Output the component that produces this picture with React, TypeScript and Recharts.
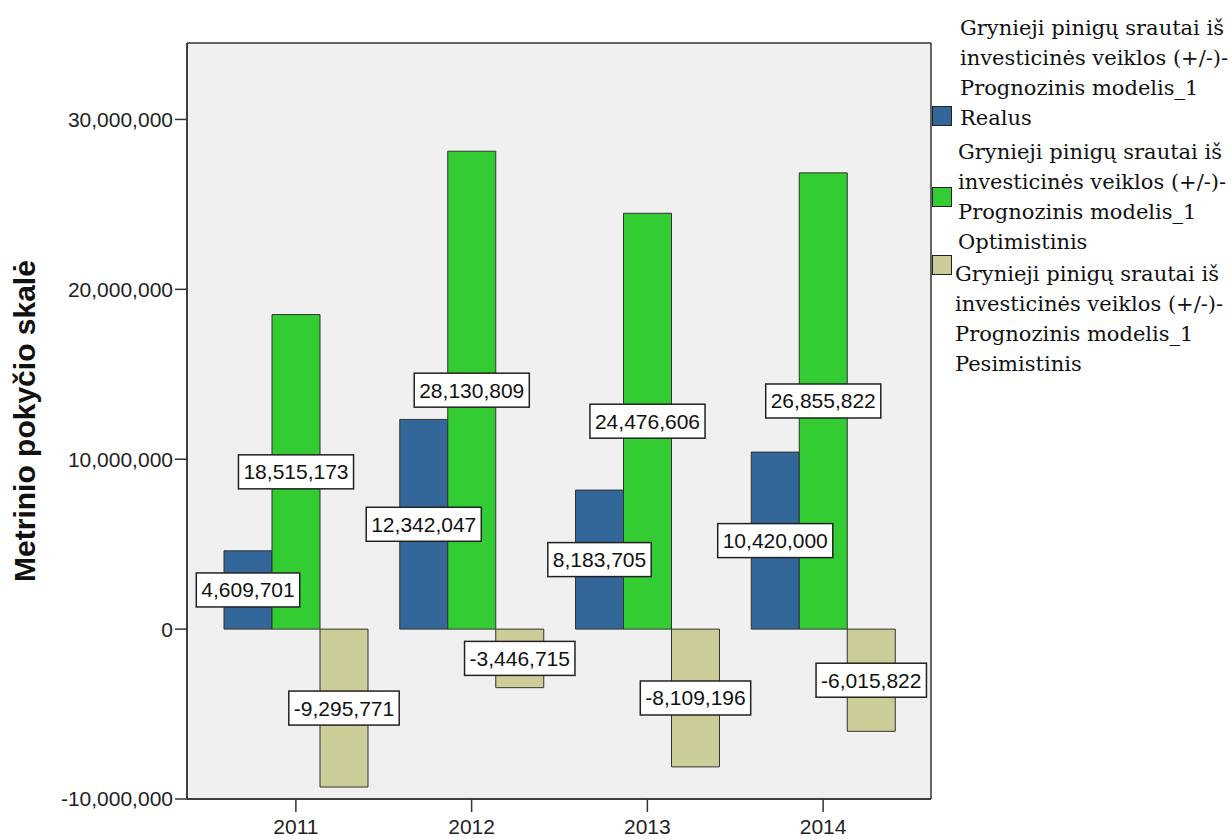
import React from 'react';
import { BarChart, Bar, XAxis, YAxis, CartesianGrid, Legend, Label, LabelList } from 'recharts';

const years = ['2011', '2012', '2013', '2014'];
const realus = [4609701, 12342047, 8183705, 10420000];
const optimistinis = [18515173, 28130809, 24476606, 26855822];
const pesimistinis = [-9295771, -3446715, -8109196, -6015822];
const yTicks = [-10000000, 0, 10000000, 20000000, 30000000];
const legendPrefix = ['Grynieji pinigų srautai iš', 'investicinės veiklos (+/-)-', 'Prognozinis modelis_1'];
const seriesNames = ['Realus', 'Optimistinis', 'Pesimistinis'];
const seriesKeys = ['realus', 'optimistinis', 'pesimistinis'];
const seriesColors = ['#336699', '#33CC33', '#CCCC99'];
const yTitle = 'Metrinio pokyčio skalė';

const data = years.map((y, i) => ({
  year: y,
  realus: realus[i],
  optimistinis: optimistinis[i],
  pesimistinis: pesimistinis[i],
}));

const fmt = (v: number) => v.toLocaleString('en-US');
const SANS = '"Liberation Sans", Arial, sans-serif';
const SERIF = '"DejaVu Serif", serif';
const LABEL_FS = 21;

const textWidth = (s: string, fs: number) => {
  let w = 0;
  for (const c of s) {
    if (c === ',') w += 0.278;
    else if (c === '-') w += 0.333;
    else w += 0.556;
  }
  return w * fs;
};

const BoxLabel = (props: any) => {
  const { x, y, width, height, value } = props;
  if (value === undefined || value === null) return null;
  const cx = Number(x) + Number(width) / 2;
  const cy = Number(y) + Number(height) / 2;
  const s = fmt(Number(value));
  const w = textWidth(s, LABEL_FS) + 10;
  const h = 34;
  return (
    <g>
      <rect x={cx - w / 2} y={cy - h / 2} width={w} height={h} fill="#FFFFFF" stroke="#222" strokeWidth={1.5} />
      <text x={cx} y={cy} textAnchor="middle" dominantBaseline="central" fontFamily={SANS} fontSize={LABEL_FS} fill="#111">
        {s}
      </text>
    </g>
  );
};

// per-item layout of the SPSS-style legend (relative to legend box)
const legendLayout = [
  { textTop: 13, squareTop: 106, textLeft: 29 },
  { textTop: 137, squareTop: 187, textLeft: 27 },
  { textTop: 259, squareTop: 255, textLeft: 24 },
];

const LegendContent = (props: any) => {
  const payload = [...(props.payload || [])].sort(
    (a: any, b: any) => seriesNames.indexOf(a.value) - seriesNames.indexOf(b.value)
  );
  return (
    <div style={{ position: 'relative', width: 301, height: 390 }}>
      {payload.map((p: any) => {
        const idx = seriesNames.indexOf(p.value);
        const L = legendLayout[idx] || legendLayout[0];
        return (
          <React.Fragment key={p.value}>
            <div
              style={{
                position: 'absolute',
                left: 1,
                top: L.squareTop,
                width: 18,
                height: 18,
                background: seriesColors[idx],
                border: '1px solid #222',
              }}
            />
            <div
              style={{
                position: 'absolute',
                left: L.textLeft,
                top: L.textTop,
                fontFamily: SERIF,
                fontSize: 21,
                lineHeight: '30px',
                color: '#111',
                whiteSpace: 'nowrap',
                textAlign: 'left',
              }}
            >
              {[...legendPrefix, p.value].map((line: string, j: number) => (
                <div key={j}>{line}</div>
              ))}
            </div>
          </React.Fragment>
        );
      })}
    </div>
  );
};

export default function App() {
  return (
    <div style={{ position: 'absolute', left: 0, top: 0, width: 1232, height: 839, background: '#fff' }}>
      <BarChart
        width={1232}
        height={839}
        data={data}
        margin={{ top: 43, right: 0, bottom: 0, left: 0 }}
        barCategoryGap={16}
        barGap={0}
      >
        <CartesianGrid
          fill="#F0F0F0"
          stroke="#333"
          strokeWidth={1.5}
          horizontalCoordinatesGenerator={({ offset }: any) => [offset.top, offset.top + offset.height]}
          verticalCoordinatesGenerator={({ offset }: any) => [offset.left, offset.left + offset.width]}
        />
        <XAxis
          dataKey="year"
          height={40}
          padding={{ left: 21, right: 20 }}
          tickSize={13}
          tickMargin={7}
          axisLine={{ stroke: '#333', strokeWidth: 1.5 }}
          tickLine={{ stroke: '#333', strokeWidth: 1.5 }}
          tick={{ fontFamily: SANS, fontSize: 21, fill: '#222' }}
        />
        <YAxis
          width={187}
          domain={[-10000000, 34500000]}
          ticks={yTicks}
          allowDataOverflow
          tickFormatter={fmt}
          tickSize={12}
          tickMargin={2}
          axisLine={{ stroke: '#333', strokeWidth: 1.5 }}
          tickLine={{ stroke: '#333', strokeWidth: 1.5 }}
          tick={{ fontFamily: SANS, fontSize: 21, fill: '#222' }}
        >
          <Label
            value={yTitle}
            angle={-90}
            position="insideLeft"
            offset={24}
            style={{ fontFamily: SANS, fontSize: 30, fontWeight: 'bold', fill: '#111', textAnchor: 'middle' }}
          />
        </YAxis>
        <Legend
          layout="vertical"
          align="right"
          verticalAlign="top"
          content={<LegendContent />}
          wrapperStyle={{ top: 0, right: 0, width: 301 }}
        />
        {seriesKeys.map((k, i) => (
          <Bar
            key={k}
            dataKey={k}
            name={seriesNames[i]}
            fill={seriesColors[i]}
            stroke="#333"
            strokeWidth={1}
            isAnimationActive={false}
          >
            <LabelList dataKey={k} content={<BoxLabel />} />
          </Bar>
        ))}
      </BarChart>
    </div>
  );
}
